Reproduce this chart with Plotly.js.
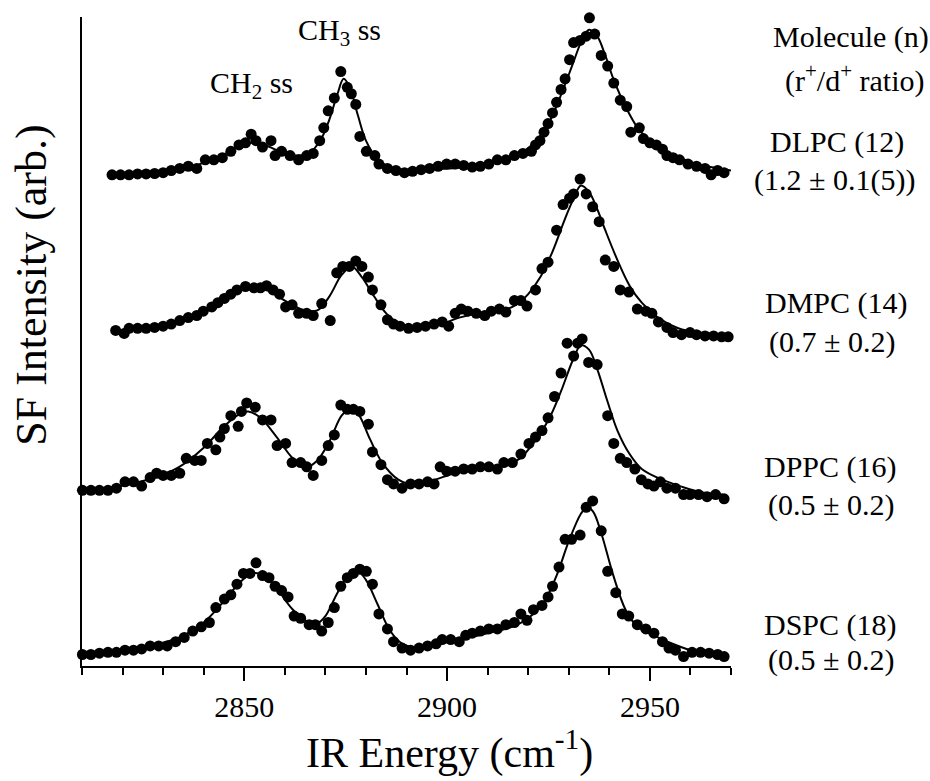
<!DOCTYPE html>
<html>
<head>
<meta charset="utf-8">
<script src="https://cdn.plot.ly/plotly-3.0.1.min.js"></script>
<style>
  html, body { margin: 0; padding: 0; background: #fff; }
  #chart { width: 930px; height: 781px; }
</style>
</head>
<body>
<div id="chart"></div>
<script>
// Sum-frequency spectra of phosphatidylcholine monolayers, CH stretch region.
// Intensities in arbitrary units above each spectrum's own baseline.

const moleculeLabels = ["DLPC (12)", "DMPC (14)", "DPPC (16)", "DSPC (18)"];
const ratioLabels = ["(1.2 \u00b1 0.1(5))", "(0.7 \u00b1 0.2)", "(0.5 \u00b1 0.2)", "(0.5 \u00b1 0.2)"];
const stackOffsets = [115.2, 78.2, 41.2, 3.2];

// DLPC
const dlpcX = [2817.4,2819.5,2821.6,2823.7,2825.8,2827.9,2830.0,2832.0,2834.1,2836.2,
  2838.3,2840.4,2842.5,2844.6,2846.7,2848.7,2850.3,2851.7,2852.9,2854.5,
  2856.6,2857.6,2859.2,2861.3,2863.4,2865.4,2867.0,2868.6,2869.6,2870.7,
  2872.2,2873.8,2875.4,2876.4,2877.5,2878.5,2880.1,2882.2,2883.2,2885.3,
  2887.4,2889.5,2891.5,2893.6,2895.7,2897.8,2899.9,2902.0,2904.1,2906.2,
  2908.2,2910.3,2912.4,2914.5,2916.6,2918.7,2920.8,2921.8,2922.9,2923.9,
  2924.9,2926.0,2927.0,2928.1,2929.1,2930.2,2931.2,2932.8,2934.3,2935.1,
  2936.4,2938.0,2939.6,2941.1,2942.7,2944.3,2945.3,2947.4,2948.4,2950.0,
  2951.6,2953.1,2954.2,2955.7,2957.3,2959.4,2961.5,2963.6,2965.1,2966.7,
  2968.3,2970.4];
const dlpcY = [0,0,0,0.2,0.2,0.3,0.5,1.0,1.5,2.0,
  1.5,3.5,3.5,4.0,5.5,7.0,7.5,9.5,8.0,6.5,
  8.0,4.5,5.5,4.5,3.5,4.5,5.0,8.0,11.0,15.0,
  18.0,24.2,20.5,19.0,16.5,9.0,5.5,4.5,2.5,1.5,
  1.0,0.5,0.8,1.2,1.5,2.0,2.5,2.5,2.2,1.8,
  2.0,2.5,3.5,3.5,4.5,5.0,5.5,7.0,8.0,10.0,
  12.0,14.5,17.0,20.0,22.5,27.0,31.0,31.5,32.5,36.8,
  33.0,28.0,25.5,21.5,17.5,16.0,10.0,11.0,8.5,7.5,
  7.0,6.0,4.5,4.0,3.5,2.5,2.0,1.5,0,1.0,
  0.5,0];
const dlpcFitX = [2818,2826,2834,2840,2845,2849,2852,2855,2858,2862,2866,2869,2871,2873,2874.5,2876,2878,2880,2883,2887,
  2895,2905,2912,2918,2922,2925,2928,2931,2933,2935,2937,2939,2941,2944,2947,2950,2955,2960,2965,2970];
const dlpcFitY = [0.1,0.3,1.2,2.8,4.8,6.8,7.5,7.0,5.8,4.6,5.0,8.5,13,19,22.5,20.5,14,8,3.5,1.5,
  1.3,1.8,3.0,5.0,8.0,12,18.5,26,31,34,32.5,28,22.5,16,11,8,5,3,1.8,1.0];

// DMPC
const dmpcX = [2818.3,2820.4,2821.6,2823.7,2825.8,2827.9,2830.0,2832.0,2834.1,2836.2,
  2838.3,2839.9,2842.0,2843.5,2845.1,2846.7,2848.2,2850.3,2852.4,2854.0,
  2855.5,2857.1,2858.7,2860.2,2861.8,2863.4,2865.4,2867.0,2869.1,2871.2,
  2872.8,2874.3,2875.9,2877.5,2879.0,2880.6,2881.6,2883.7,2885.3,2886.8,
  2888.4,2890.5,2892.6,2894.7,2896.8,2898.8,2900.4,2902.0,2903.5,2905.1,
  2907.2,2909.3,2910.9,2912.9,2914.5,2916.6,2918.2,2919.7,2921.8,2923.4,
  2924.9,2927.0,2928.6,2930.2,2931.2,2932.8,2934.3,2935.9,2937.5,2939.0,
  2941.1,2942.7,2944.8,2946.9,2949.0,2950.5,2952.1,2954.2,2955.7,2957.8,
  2959.9,2961.5,2963.6,2965.7,2967.7,2969.3];
const dmpcY = [0.5,-0.2,1.0,1.0,1.0,1.2,1.5,2.0,2.8,3.5,
  4.0,5.0,6.0,7.0,8.0,9.0,10.0,10.8,10.5,10.5,
  11.0,10.0,9.0,6.0,6.5,4.5,4.5,4.0,6.8,2.8,
  14.0,15.5,15.5,16.8,15.5,13.0,10.0,6.5,3.0,2.0,
  1.5,1.0,1.2,1.5,2.0,2.5,1.5,4.5,5.5,5.0,
  4.5,4.0,5.0,5.5,4.8,7.5,7.5,6.2,10.0,15.0,
  16.5,24.0,30.0,31.5,32.5,36.0,32.5,29.5,26.0,17.0,
  15.5,10.0,9.5,5.5,5.0,4.5,2.5,1.2,0,-0.5,
  0,-0.5,-0.8,-0.8,-1.0,-1.0];
const dmpcFitX = [2818,2826,2834,2840,2845,2849,2852,2856,2860,2864,2868,2871,2874,2876.5,2879,2882,2885,2888,2892,2898,
  2903,2908,2913,2917,2920,2923,2926,2929,2931,2933,2935,2937,2939,2942,2945,2948,2952,2957,2962,2970];
const dmpcFitY = [0.5,1.2,2.8,5.0,7.8,9.8,10.5,9.8,7.5,5.5,5.2,8.5,13.5,15.5,13,8.5,4.5,2.2,1.3,1.8,
  3.5,4.5,5.0,6.5,9.0,13,19,26.5,31,34.5,33,29,24,17,11,7,3.5,1.0,0,-0.5];

// DPPC
const dppcX = [2810.1,2812.2,2814.3,2816.4,2818.5,2820.6,2822.7,2824.7,2826.8,2828.4,
  2830.0,2832.0,2834.1,2835.7,2837.8,2839.4,2840.9,2843.0,2844.0,2845.1,
  2846.7,2848.5,2849.3,2850.6,2852.7,2854.5,2856.6,2858.1,2860.2,2861.8,
  2863.9,2865.4,2867.0,2869.1,2870.7,2872.2,2873.8,2875.4,2876.9,2878.5,
  2880.6,2881.6,2883.7,2885.3,2886.8,2888.9,2891.0,2893.1,2895.2,2896.8,
  2898.3,2899.9,2902.0,2904.1,2906.2,2908.2,2910.3,2912.4,2914.0,2916.1,
  2918.2,2920.2,2921.8,2923.4,2924.9,2926.5,2928.1,2929.6,2931.2,2932.2,
  2933.3,2934.9,2937.0,2939.6,2941.1,2942.7,2944.3,2946.3,2947.9,2949.5,
  2951.0,2952.6,2954.2,2956.3,2958.3,2959.9,2962.0,2964.1,2966.2,2968.3];
const dppcY = [0,0,0,0,0.5,2.0,2.0,1.0,3.0,4.0,
  3.5,3.5,4.0,7.5,7.0,7.0,11.0,9.5,12.5,14.5,
  17.5,15.0,18.5,20.5,19.5,16.5,16.5,10.5,11.0,6.5,
  6.5,5.5,3.5,7.0,10.5,13.0,20.0,19.0,19.0,18.5,
  15.5,9.0,6.0,2.5,1.5,0.5,1.5,1.5,2.0,1.5,
  5.5,4.5,4.5,5.0,5.0,5.5,5.5,5.0,6.5,6.5,
  8.5,11.0,12.5,14.0,17.0,22.0,27.5,34.5,31.5,34.5,
  35.5,30.0,29.5,17.5,11.0,7.5,6.5,5.0,2.5,1.5,
  1.0,2.0,0.5,0.5,-1.0,-1.0,-1.0,-1.5,-1.0,-2.0];
const dppcFitX = [2810,2816,2822,2828,2834,2840,2845,2849,2851,2854,2858,2862,2865.5,2868,2871,2874,2876,2878,2881,2884,
  2888,2892,2897,2902,2908,2914,2918,2922,2925,2928,2931,2933,2935,2937,2939.5,2942,2945,2948,2953,2958,2963,2968];
const dppcFitY = [0,0.5,1.5,3.0,5.5,10,15,18,18.5,17,12.5,7.5,5.5,7,11.5,17.5,19,18,12,6.5,
  2.5,1.3,2.5,4.0,4.8,5.8,7.5,12,16.5,23,30.5,34,33,28.5,21,14,8.5,5,2.5,0.8,-0.5,-1.0];

// DSPC
const dspcX = [2810.1,2812.2,2814.3,2816.4,2818.5,2820.6,2822.7,2824.7,2826.8,2828.9,
  2831.0,2833.1,2835.2,2837.3,2839.4,2841.4,2843.0,2845.1,2846.7,2848.2,
  2849.8,2851.4,2852.9,2854.5,2856.1,2857.6,2859.2,2860.8,2862.3,2863.9,
  2866.0,2867.5,2869.1,2870.7,2872.2,2873.8,2875.4,2876.9,2878.5,2880.1,
  2881.6,2883.2,2885.3,2886.8,2888.9,2891.0,2893.1,2895.2,2897.3,2898.8,
  2900.9,2903.0,2904.6,2906.2,2908.2,2910.3,2912.4,2914.5,2916.6,2918.2,
  2919.7,2921.3,2923.4,2924.9,2926.0,2927.6,2929.1,2930.7,2932.8,2934.3,
  2935.9,2938.0,2939.6,2941.6,2943.2,2944.8,2946.9,2949.0,2951.0,2953.1,
  2954.7,2956.3,2958.3,2960.4,2962.5,2964.6,2966.7,2968.3];
const dspcY = [-0.5,-0.5,-0.2,0,0,0.5,0.5,0.8,1.5,1.5,
  1.5,2.5,3.5,5.0,6.0,7.0,10.5,12.5,13.5,16.0,
  18.5,18.5,21.0,18.0,17.5,15.5,14.5,13.0,8.5,8.0,
  6.5,6.5,5.0,7.0,10.5,15.5,17.5,18.5,19.5,19.0,
  16.0,9.0,5.5,2.5,1.0,0.5,1.0,1.5,2.0,3.0,
  3.0,2.5,4.0,4.5,5.0,5.5,5.5,6.5,7.0,9.0,
  7.5,10.0,11.0,13.0,15.5,20.0,26.5,26.5,27.5,34.0,
  35.5,28.5,19.0,14.0,9.0,8.5,6.5,5.5,4.5,2.5,
  1.0,0.5,-1.0,0,0,-0.2,-0.5,-1.0];
const dspcFitX = [2810,2816,2822,2828,2834,2840,2845,2849,2852,2855,2858,2862,2866,2868,2870,2873,2876,2878,2880,2883,
  2886,2889,2892,2897,2903,2910,2916,2920,2924,2927,2930,2933,2934.5,2936,2938,2941,2944,2947,2952,2957,2962,2968];
const dspcFitY = [-0.3,0.1,0.8,1.8,3.5,7,12,16.5,18.5,18,15,10,7,6.8,8.5,14,18.5,19,17,11,
  5,2,1.2,1.8,3.0,4.5,6.0,8.0,12,18,26,32.5,34,33,28,18,10,6,3.5,1.5,0,-0.5];

const spectra = [
  {x: dlpcX, y: dlpcY, fx: dlpcFitX, fy: dlpcFitY},
  {x: dmpcX, y: dmpcY, fx: dmpcFitX, fy: dmpcFitY},
  {x: dppcX, y: dppcY, fx: dppcFitX, fy: dppcFitY},
  {x: dspcX, y: dspcY, fx: dspcFitX, fy: dspcFitY}
];

const xTickVals = [2850, 2900, 2950];
const xTickText = ["2850", "2900", "2950"];

const serif = "Liberation Serif, Times New Roman, serif";
const traces = [];
spectra.forEach((s, i) => {
  const off = stackOffsets[i];
  traces.push({
    x: s.fx, y: s.fy.map(v => v + off),
    mode: "lines", type: "scatter",
    line: {color: "#000", width: 2, shape: "spline", smoothing: 1},
    hoverinfo: "skip", cliponaxis: false, showlegend: false
  });
  traces.push({
    x: s.x, y: s.y.map(v => v + off),
    mode: "markers", type: "scatter",
    marker: {color: "#000", size: 11, symbol: "circle"},
    name: moleculeLabels[i], cliponaxis: false, showlegend: false
  });
});

// Labels on the right: molecule (chain length) and its r+/d+ ratio
const annotations = [
  {text: "Molecule (n)", xref: "paper", yref: "paper", x: 1.185, y: 0.969},
  {text: "(r<sup>+</sup>/d<sup>+</sup> ratio)", xref: "paper", yref: "paper", x: 1.191, y: 0.906}
];
const labelY = [[0.807, 0.749], [0.559, 0.499], [0.307, 0.248], [0.063, 0.009]];
const labelX = [[1.163, 1.160], [1.163, 1.156], [1.154, 1.154], [1.154, 1.154]];
moleculeLabels.forEach((m, i) => {
  annotations.push({text: m, xref: "paper", yref: "paper", x: labelX[i][0], y: labelY[i][0]});
  annotations.push({text: ratioLabels[i], xref: "paper", yref: "paper", x: labelX[i][1], y: labelY[i][1]});
});
// Peak assignments
annotations.push({text: "CH<sub>2</sub> ss", xref: "x", yref: "y", x: 2851.9, y: 136.2});
annotations.push({text: "CH<sub>3</sub> ss", xref: "x", yref: "y", x: 2873.5, y: 148.7});
// Axis titles
annotations.push({text: "IR Energy (cm<sup>-1</sup>)", xref: "paper", yref: "paper", x: 0.567, y: -0.129,
  font: {family: serif, size: 42, color: "#000"}});
annotations.push({text: "SF Intensity (arb.)", xref: "paper", yref: "paper", x: -0.079, y: 0.587,
  textangle: -90, font: {family: serif, size: 44, color: "#000"}});

annotations.forEach(a => {
  a.showarrow = false;
  a.xanchor = "center";
  a.yanchor = "middle";
  if (!a.font) a.font = {family: serif, size: 30, color: "#000"};
});

const layout = {
  width: 930, height: 781,
  margin: {l: 82, r: 199, t: 17, b: 115},
  paper_bgcolor: "#fff", plot_bgcolor: "#fff",
  font: {family: serif, color: "#000"},
  showlegend: false,
  xaxis: {
    range: [2810, 2970],
    showgrid: false, zeroline: false,
    showline: true, linecolor: "#000", linewidth: 2,
    tickmode: "array", tickvals: xTickVals, ticktext: xTickText,
    ticks: "outside", ticklen: 13, tickwidth: 2, tickcolor: "#000",
    tickfont: {family: serif, size: 30, color: "#000"},
    minor: {dtick: 10, tick0: 2810, ticks: "outside", ticklen: 7, tickwidth: 2, tickcolor: "#000", showgrid: false}
  },
  yaxis: {
    range: [0, 152.2],
    showgrid: false, zeroline: false,
    showline: true, linecolor: "#000", linewidth: 2,
    ticks: "", showticklabels: false
  },
  annotations: annotations
};

Plotly.newPlot("chart", traces, layout, {staticPlot: true, displayModeBar: false});
</script>
</body>
</html>
